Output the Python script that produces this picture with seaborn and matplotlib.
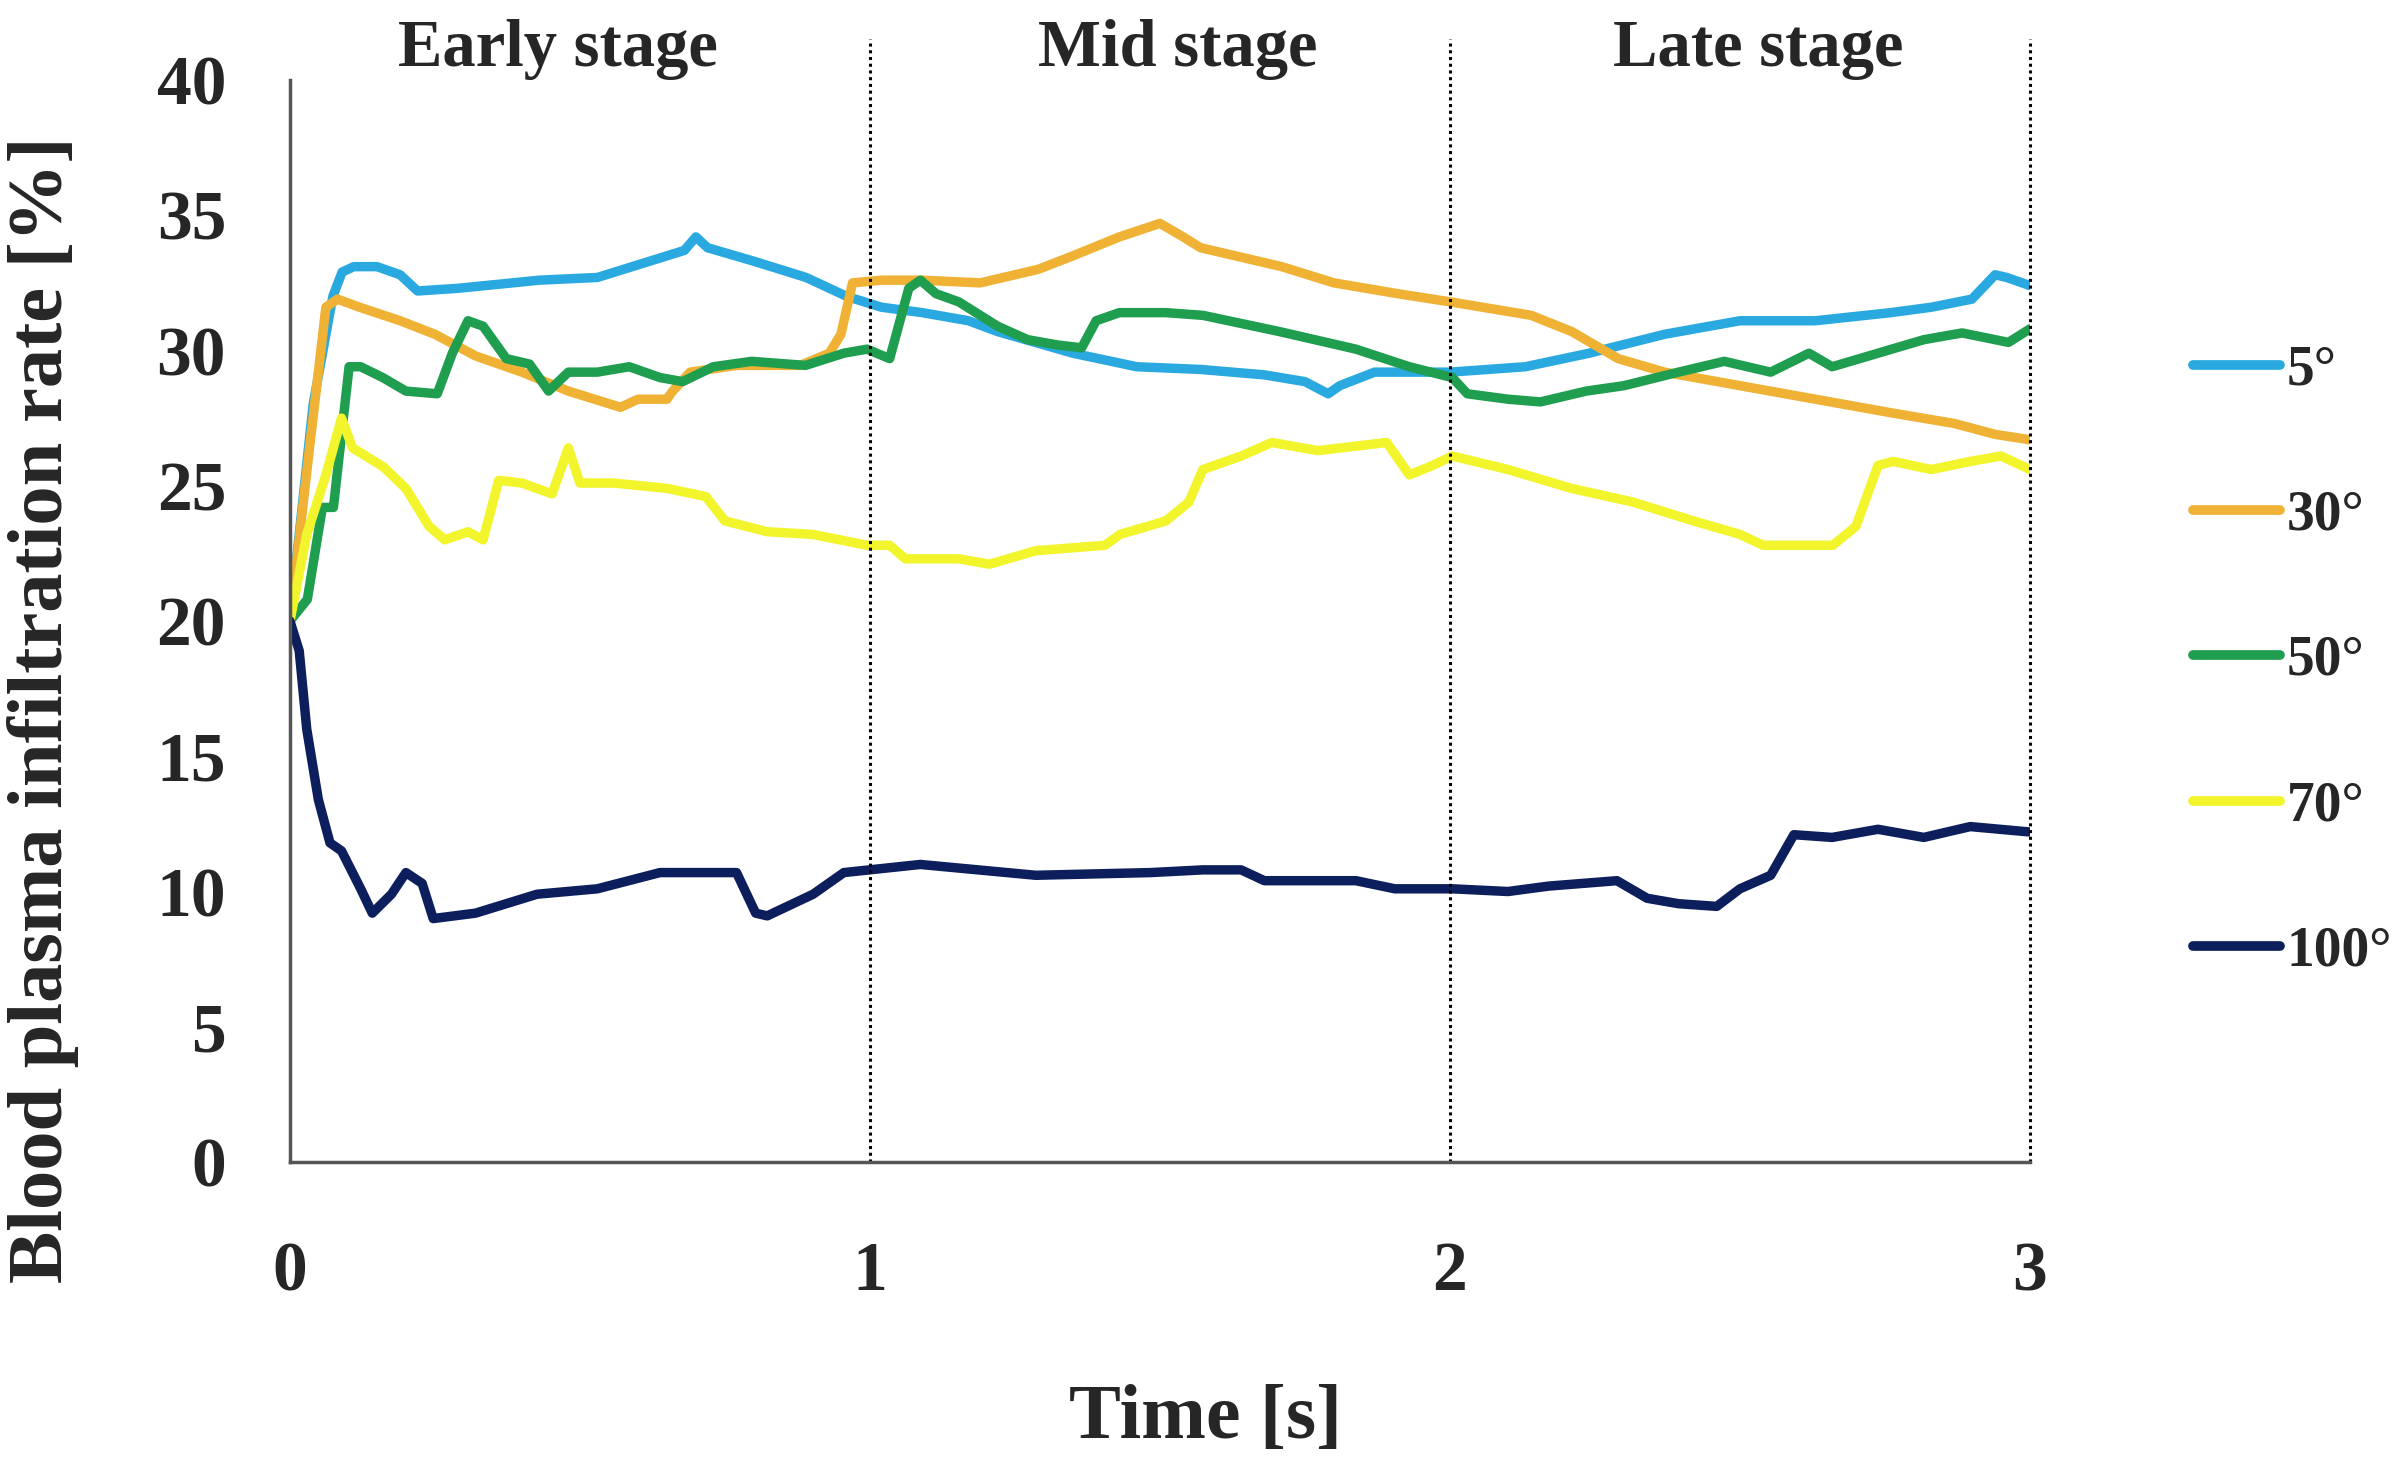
import numpy as np
import pandas as pd
import matplotlib
matplotlib.use("Agg")
import matplotlib.pyplot as plt
import seaborn as sns

# values (time [s], infiltration rate [%])
t_5 = [0, 0.04, 0.074, 0.09, 0.11, 0.15, 0.19, 0.22, 0.29, 0.43, 0.53, 0.62, 0.68, 0.70, 0.72,
       0.80, 0.89, 0.96, 1.02, 1.09, 1.17, 1.22, 1.35, 1.46, 1.57, 1.68, 1.75, 1.79, 1.81, 1.87,
       2.0, 2.13, 2.24, 2.37, 2.5, 2.63, 2.76, 2.83, 2.9, 2.94, 2.96, 3.0]
v_5 = [20, 28.0, 32.0, 32.9, 33.1, 33.1, 32.8, 32.2, 32.3, 32.6, 32.7, 33.3, 33.7, 34.2, 33.8,
       33.3, 32.7, 32.0, 31.6, 31.4, 31.1, 30.7, 29.9, 29.4, 29.3, 29.1, 28.85, 28.4, 28.7, 29.2,
       29.2, 29.4, 29.9, 30.6, 31.1, 31.1, 31.4, 31.6, 31.9, 32.8, 32.7, 32.4]

t_30 = [0, 0.03, 0.062, 0.082, 0.12, 0.19, 0.25, 0.32, 0.40, 0.48, 0.57, 0.60, 0.65, 0.66, 0.69,
        0.77, 0.88, 0.93, 0.95, 0.97, 1.02, 1.09, 1.19, 1.29, 1.35, 1.43, 1.50, 1.54, 1.57, 1.71,
        1.80, 1.91, 2.0, 2.14, 2.21, 2.29, 2.37, 2.5, 2.63, 2.76, 2.87, 2.94, 3.0]
v_30 = [20, 25.7, 31.6, 31.9, 31.6, 31.1, 30.6, 29.8, 29.2, 28.5, 27.9, 28.2, 28.2, 28.5, 29.2,
        29.45, 29.45, 29.9, 30.6, 32.5, 32.6, 32.6, 32.5, 33.0, 33.5, 34.2, 34.7, 34.2, 33.8, 33.1,
        32.5, 32.1, 31.8, 31.3, 30.7, 29.7, 29.2, 28.7, 28.2, 27.7, 27.3, 26.9, 26.7]

t_50 = [0, 0.03, 0.056, 0.075, 0.102, 0.122, 0.16, 0.2, 0.254, 0.28, 0.307, 0.333, 0.373, 0.413,
        0.446, 0.48, 0.53, 0.585, 0.638, 0.677, 0.73, 0.796, 0.889, 0.955, 0.995, 1.034, 1.067,
        1.087, 1.114, 1.153, 1.22, 1.272, 1.325, 1.365, 1.39, 1.43, 1.51, 1.574, 1.706, 1.838,
        1.93, 2.004, 2.03, 2.1, 2.156, 2.235, 2.3, 2.394, 2.473, 2.553, 2.619, 2.659, 2.738,
        2.817, 2.883, 2.963, 3.0]
v_50 = [20, 20.8, 24.2, 24.2, 29.4, 29.4, 29.0, 28.5, 28.4, 29.9, 31.1, 30.9, 29.7, 29.5,
        28.5, 29.2, 29.2, 29.4, 29.0, 28.85, 29.4, 29.6, 29.45, 29.9, 30.05, 29.7, 32.3,
        32.6, 32.1, 31.8, 30.9, 30.4, 30.2, 30.1, 31.1, 31.4, 31.4, 31.3, 30.7, 30.05,
        29.4, 29.0, 28.4, 28.2, 28.1, 28.5, 28.7, 29.2, 29.6, 29.2, 29.9, 29.4, 29.9,
        30.4, 30.65, 30.3, 30.8]

t_70 = [0, 0.029, 0.062, 0.089, 0.108, 0.161, 0.2, 0.24, 0.267, 0.307, 0.333, 0.36, 0.4, 0.452,
        0.48, 0.5, 0.558, 0.651, 0.717, 0.75, 0.823, 0.902, 0.995, 1.034, 1.061, 1.153, 1.206,
        1.286, 1.405, 1.431, 1.51, 1.55, 1.574, 1.64, 1.693, 1.772, 1.891, 1.93, 1.97, 2.004,
        2.1, 2.21, 2.315, 2.42, 2.5, 2.54, 2.66, 2.7, 2.738, 2.764, 2.83, 2.897, 2.95, 3.0]
v_70 = [20, 23.2, 25.4, 27.5, 26.4, 25.7, 24.9, 23.5, 23.0, 23.3, 23.0, 25.2, 25.1, 24.7,
        26.4, 25.1, 25.1, 24.9, 24.6, 23.7, 23.3, 23.2, 22.8, 22.8, 22.3, 22.3, 22.1,
        22.6, 22.8, 23.2, 23.7, 24.4, 25.6, 26.1, 26.6, 26.3, 26.6, 25.4, 25.75, 26.1,
        25.6, 24.9, 24.4, 23.7, 23.2, 22.8, 22.8, 23.5, 25.75, 25.9, 25.6, 25.9, 26.1, 25.6]

t_100 = [0, 0.016, 0.029, 0.049, 0.069, 0.089, 0.122, 0.142, 0.175, 0.2, 0.228, 0.247, 0.32,
         0.426, 0.53, 0.638, 0.77, 0.803, 0.823, 0.902, 0.955, 1.087, 1.286, 1.484, 1.574, 1.64,
         1.68, 1.838, 1.905, 2.004, 2.1, 2.17, 2.288, 2.34, 2.394, 2.46, 2.5, 2.553, 2.593,
         2.659, 2.738, 2.817, 2.897, 3.0]
v_100 = [20, 18.9, 16.0, 13.4, 11.8, 11.5, 10.1, 9.2, 9.9, 10.7, 10.3, 9.0, 9.2,
         9.9, 10.1, 10.7, 10.7, 9.2, 9.1, 9.9, 10.7, 11.0, 10.6, 10.7, 10.8, 10.8,
         10.4, 10.4, 10.1, 10.1, 10.0, 10.2, 10.4, 9.75, 9.55, 9.45, 10.1, 10.6, 12.1,
         12.0, 12.3, 12.0, 12.4, 12.2]

angles = ["5°", "30°", "50°", "70°", "100°"]
colors = ["#29a9df", "#efb235", "#1f9e4f", "#f2f52c", "#0c1f5c"]
stages = ["Early stage", "Mid stage", "Late stage"]
stage_pos = [0.462, 1.531, 2.531]

series = {"5°": (t_5, v_5), "30°": (t_30, v_30), "50°": (t_50, v_50),
          "70°": (t_70, v_70), "100°": (t_100, v_100)}
frames = []
for name in angles:
    t, v = series[name]
    frames.append(pd.DataFrame({"time": t, "rate": v, "angle": name}))
df = pd.concat(frames, ignore_index=True)

sns.set_theme(style="white")
plt.rcParams["font.family"] = ["Liberation Serif", "DejaVu Serif"]
plt.rcParams["font.weight"] = "bold"

fig = plt.figure(figsize=(24.06, 14.6), dpi=100)
ax = fig.add_axes([0.1205, 0.2041, 0.7232, 0.7411])

sns.lineplot(data=df, x="time", y="rate", hue="angle", hue_order=angles,
             palette=dict(zip(angles, colors)), estimator=None, sort=False,
             linewidth=6.8, ax=ax)

ax.set_xlim(0, 3)
ax.set_ylim(0, 40)
ax.set_xticks([0, 1, 2, 3])
ax.set_yticks(range(0, 41, 5))
ax.tick_params(axis="both", length=0, labelsize=50)
ax.tick_params(axis="x", pad=57)
ax.tick_params(axis="y", pad=46)
for lab in ax.get_xticklabels() + ax.get_yticklabels():
    lab.set_fontweight("bold")

for side in ["top", "right"]:
    ax.spines[side].set_visible(False)
for side in ["left", "bottom"]:
    ax.spines[side].set_color("#555555")
    ax.spines[side].set_linewidth(2.5)

# stage separators
ax.vlines([1, 2, 3], 0, 41.5, colors="black", linestyles=(0, (1, 1.2)),
          linewidth=2.2, clip_on=False)
for name, x in zip(stages, stage_pos):
    ax.text(x, 40.5, name, ha="center", va="baseline", fontsize=48,
            fontweight="bold", clip_on=False)

ax.set_xlabel("Time [s]", fontsize=56, fontweight="bold")
ax.set_ylabel("Blood plasma infiltration rate [%]", fontsize=56.5, fontweight="bold")
ax.xaxis.set_label_coords(0.526, -0.205)
ax.yaxis.set_label_coords(-0.121, 0.418)

handles, labels = ax.get_legend_handles_labels()
leg = ax.legend(handles, labels, loc="center left", bbox_to_anchor=(0.9115, 0.5473),
                bbox_transform=fig.transFigure, frameon=False, fontsize=40,
                borderpad=0, borderaxespad=0,
                handlelength=1.56, handletextpad=0.12, labelspacing=1.68)
for text in leg.get_texts():
    text.set_fontweight("bold")
for line in leg.get_lines():
    line.set_linewidth(7)
    line.set_solid_capstyle("round")

fig.savefig("out.png", dpi=100)
